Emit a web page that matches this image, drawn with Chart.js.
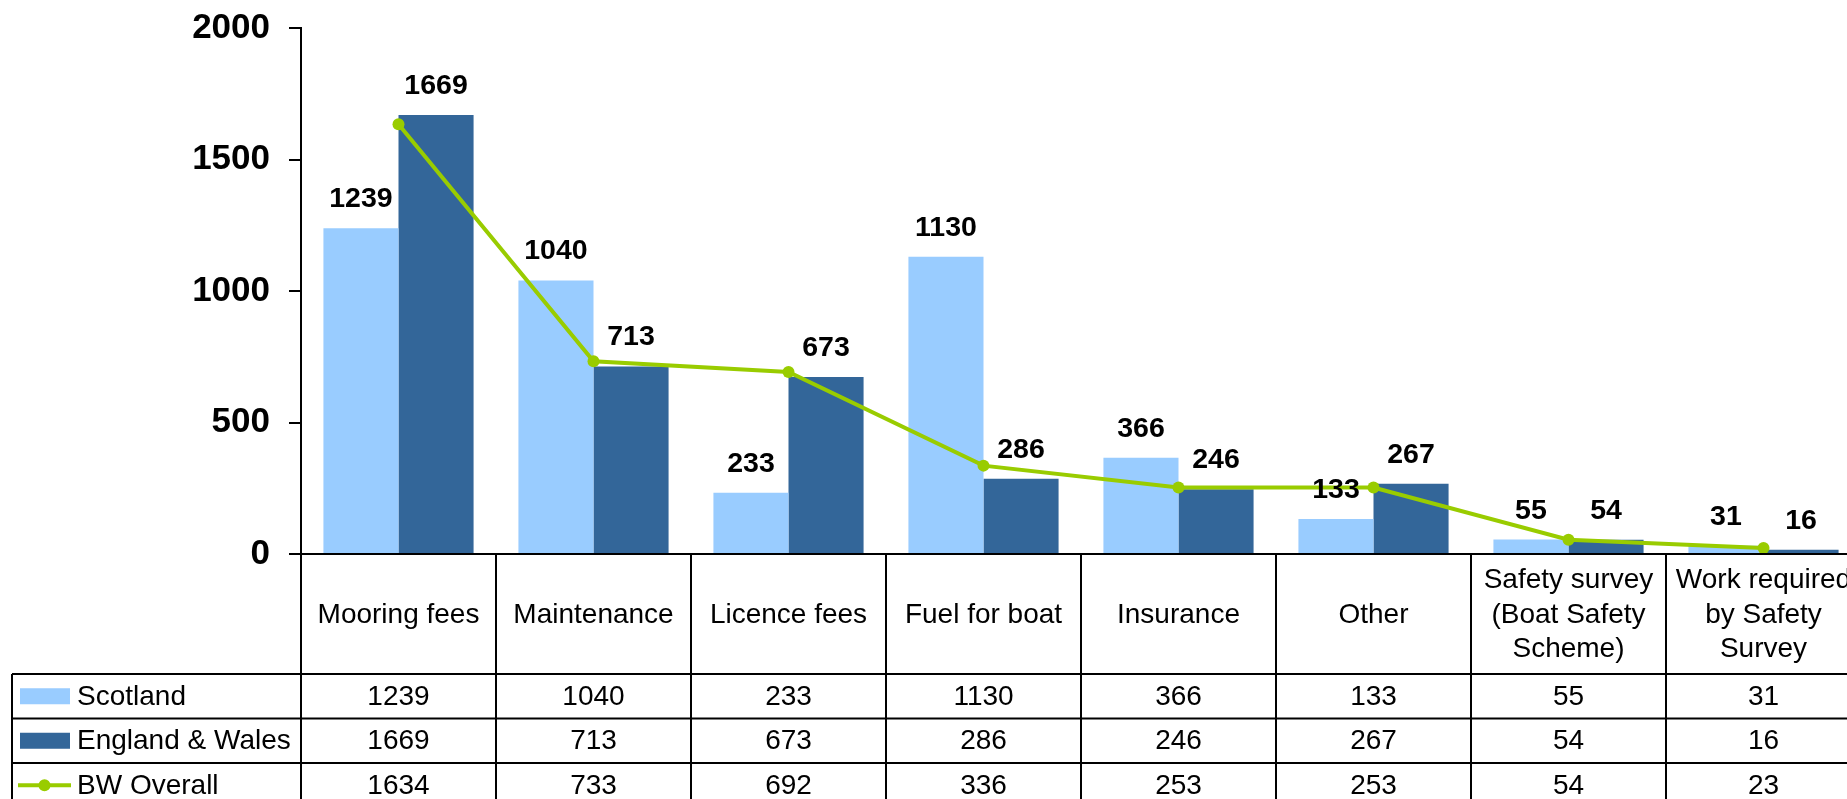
<!DOCTYPE html>
<html lang="en">
<head>
    <meta charset="UTF-8">
    <title>Boat costs</title>
    <script src="https://cdn.jsdelivr.net/npm/chart.js@4"></script>
    <style>
        html, body { margin: 0; padding: 0; background: #fff; overflow: hidden; }
        #wrap { width: 1870px; height: 799px; }
    </style>
</head>
<body>
    <div id="wrap">
        <canvas id="costChart" width="1870" height="799"></canvas>
    </div>

    <script>
        const categories = [
            'Mooring fees', 'Maintenance', 'Licence fees', 'Fuel for boat', 'Insurance', 'Other',
            ['Safety survey', '(Boat Safety', 'Scheme)'],
            ['Work required', 'by Safety', 'Survey']
        ];
        const scotland = [1239, 1040, 233, 1130, 366, 133, 55, 31];
        const englandWales = [1669, 713, 673, 286, 246, 267, 54, 16];
        const bwOverall = [1634, 733, 692, 336, 253, 253, 54, 23];
        const yTicks = [0, 500, 1000, 1500, 2000];

        const seriesNames = ['Scotland', 'England & Wales', 'BW Overall'];
        const lightBlue = '#99CCFF';
        const darkBlue = '#336699';
        const lime = '#99CC00';
        const FONT = '"Liberation Sans", Arial, sans-serif';

        // bar value labels + the data table under the plot
        const tablePlugin = {
            id: 'tablePlugin',
            afterDatasetsDraw(chart) {
                const ctx = chart.ctx;
                ctx.save();
                ctx.fillStyle = '#000';
                ctx.font = 'bold 28.5px ' + FONT;
                ctx.textAlign = 'center';
                ctx.textBaseline = 'alphabetic';
                [0, 1].forEach(i => {
                    const meta = chart.getDatasetMeta(i);
                    meta.data.forEach((bar, j) => {
                        ctx.fillText(chart.data.datasets[i].data[j], bar.x, bar.y - 21);
                    });
                });
                ctx.restore();
            },
            afterDraw(chart) {
                const ctx = chart.ctx;
                const area = chart.chartArea;
                const x = chart.scales.x;
                const catW = (area.right - area.left) / categories.length;
                const top = area.bottom;
                const labelBottom = top + 120;
                const rowH = 44.5;
                const tableLeft = 12;

                ctx.save();
                ctx.strokeStyle = '#000';
                ctx.lineWidth = 2;
                ctx.beginPath();
                // zero line with its tick
                ctx.moveTo(area.left - 12, top);
                ctx.lineTo(area.right, top);
                // category dividers
                for (let k = 0; k <= categories.length; k++) {
                    const px = area.left + k * catW;
                    ctx.moveTo(px, top);
                    ctx.lineTo(px, labelBottom + rowH * 3);
                }
                // row lines
                for (let r = 0; r <= 3; r++) {
                    const py = labelBottom + r * rowH;
                    ctx.moveTo(tableLeft, py);
                    ctx.lineTo(area.right, py);
                }
                ctx.moveTo(tableLeft, labelBottom);
                ctx.lineTo(tableLeft, labelBottom + rowH * 3);
                ctx.stroke();

                ctx.fillStyle = '#000';
                ctx.font = '28px ' + FONT;
                ctx.textAlign = 'center';
                ctx.textBaseline = 'middle';

                // category labels
                categories.forEach((cat, j) => {
                    const cx = x.getPixelForValue(j);
                    const lines = Array.isArray(cat) ? cat : [cat];
                    const lh = 34.5;
                    const cy = top + 60;
                    lines.forEach((ln, n) => {
                        ctx.fillText(ln, cx, cy + (n - (lines.length - 1) / 2) * lh + 1);
                    });
                });

                // values
                const rows = [scotland, englandWales, bwOverall];
                rows.forEach((vals, r) => {
                    const cy = labelBottom + r * rowH + rowH / 2 + 1;
                    vals.forEach((v, j) => ctx.fillText(v, x.getPixelForValue(j), cy));
                });

                // legend keys
                ctx.textAlign = 'left';
                seriesNames.forEach((name, r) => {
                    const cy = labelBottom + r * rowH + rowH / 2;
                    if (r < 2) {
                        ctx.fillStyle = r === 0 ? lightBlue : darkBlue;
                        ctx.fillRect(20, cy - 8, 50, 16);
                    } else {
                        ctx.strokeStyle = lime;
                        ctx.lineWidth = 4;
                        ctx.beginPath();
                        ctx.moveTo(18, cy);
                        ctx.lineTo(71, cy);
                        ctx.stroke();
                        ctx.fillStyle = lime;
                        ctx.beginPath();
                        ctx.arc(44.5, cy, 6, 0, Math.PI * 2);
                        ctx.fill();
                    }
                    ctx.fillStyle = '#000';
                    ctx.fillText(name, 77, cy + 1);
                });
                ctx.restore();
            }
        };

        new Chart(document.getElementById('costChart'), {
            type: 'bar',
            data: {
                labels: categories,
                datasets: [
                    {
                        label: seriesNames[0],
                        data: scotland,
                        backgroundColor: lightBlue,
                        categoryPercentage: 0.77,
                        barPercentage: 1.0,
                        order: 1
                    },
                    {
                        label: seriesNames[1],
                        data: englandWales,
                        backgroundColor: darkBlue,
                        categoryPercentage: 0.77,
                        barPercentage: 1.0,
                        order: 1
                    },
                    {
                        type: 'line',
                        label: seriesNames[2],
                        data: bwOverall,
                        borderColor: lime,
                        backgroundColor: lime,
                        borderWidth: 4,
                        pointRadius: 6,
                        pointBackgroundColor: lime,
                        pointBorderWidth: 0,
                        tension: 0,
                        order: 0
                    }
                ]
            },
            options: {
                responsive: false,
                animation: false,
                layout: { padding: { left: 0, right: 9, top: 28, bottom: 245 } },
                plugins: {
                    legend: { display: false },
                    tooltip: { enabled: false }
                },
                scales: {
                    x: { display: false },
                    y: {
                        min: 0,
                        max: 2000,
                        afterFit(scale) {
                            scale.width = 301;
                            scale.paddingTop = 0;
                            scale.paddingBottom = 0;
                        },
                        afterBuildTicks(scale) { scale.ticks = yTicks.map(v => ({ value: v })); },
                        border: { display: true, color: '#000', width: 2 },
                        grid: { drawOnChartArea: false, drawTicks: true, tickLength: 12, color: '#000', lineWidth: 2 },
                        ticks: {
                            color: '#000',
                            padding: 19,
                            font: { family: FONT, size: 35, weight: 'bold' },
                            callback: v => String(v)
                        }
                    }
                }
            },
            plugins: [tablePlugin]
        });
    </script>
</body>
</html>
